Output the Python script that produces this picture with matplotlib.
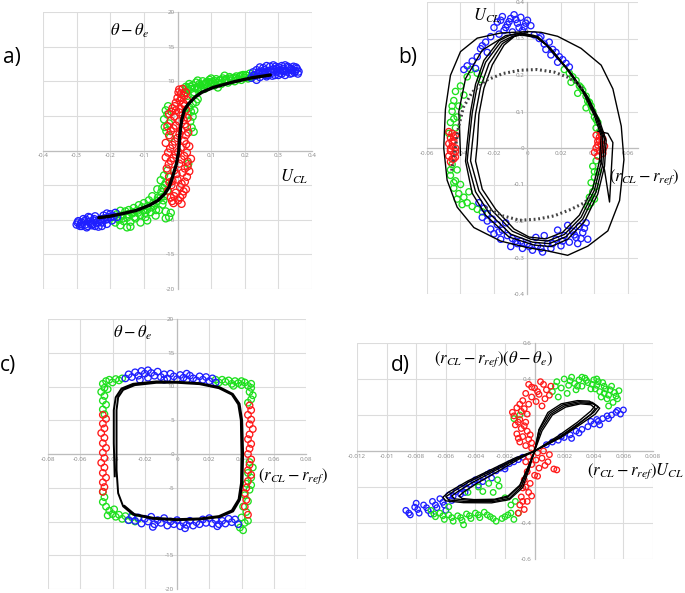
import numpy as np
import matplotlib
matplotlib.use('Agg')
import matplotlib.pyplot as plt

plt.rcParams['mathtext.fontset'] = 'stix'
plt.rcParams['font.family'] = ['Open Sans', 'DejaVu Sans']

W, H = 685, 593

BLUE = '#1f1fff'
RED = '#ff1a1a'
GREEN = '#1ee01e'

# ---------------- panel a) : theta - theta_e  vs  U_CL ----------------
a_xticks = [-0.4, -0.3, -0.2, -0.1, 0, 0.1, 0.2, 0.3, 0.4]
a_xlabels = ['-0.4', '-0.3', '-0.2', '-0.1', '0', '0.1', '0.2', '0.3', '0.4']
a_yticks = [-20, -15, -10, -5, 0, 5, 10, 15, 20]
a_ylabels = ['-20', '-15', '-10', '-5', '0', '5', '10', '15', '20']

a_blue = [(0.220, 10.5), (0.225, 11.3), (0.230, 10.8), (0.235, 11.6), (0.240, 11.0), (0.245, 10.6),
          (0.250, 11.4), (0.255, 11.9), (0.260, 11.1), (0.265, 10.7), (0.270, 11.5), (0.275, 12.1),
          (0.280, 11.2), (0.285, 11.7), (0.290, 10.9), (0.295, 11.4), (0.300, 12.0), (0.305, 11.6),
          (0.310, 11.1), (0.315, 11.8), (0.320, 12.3), (0.325, 11.4), (0.330, 11.9), (0.335, 11.1),
          (0.340, 11.6), (0.345, 12.1), (0.350, 11.5), (0.355, 11.8), (0.360, 11.4), (0.245, 12.0),
          (0.265, 12.2), (0.285, 12.3), (0.300, 10.9), (0.320, 10.9), (0.270, 10.9), (0.235, 10.2),
          (0.255, 11.2), (0.310, 12.2), (0.340, 11.2), (0.295, 11.8),
          (0.228, 10.9), (0.242, 11.3), (0.258, 11.6), (0.262, 10.9), (0.278, 11.4), (0.292, 12.1),
          (0.305, 11.2), (0.318, 11.5), (0.328, 12.1), (0.338, 11.8), (0.348, 11.3), (0.352, 12.0),
          (0.358, 11.1), (0.282, 10.8), (0.312, 11.5),
          (-0.300, -10.7), (-0.295, -10.2), (-0.290, -10.9), (-0.285, -10.4), (-0.280, -9.9),
          (-0.275, -10.7), (-0.270, -11.1), (-0.265, -10.3), (-0.260, -9.7), (-0.255, -10.8),
          (-0.250, -10.1), (-0.245, -9.5), (-0.240, -10.5), (-0.235, -11.0), (-0.230, -9.9),
          (-0.225, -10.4), (-0.220, -9.4), (-0.215, -10.0), (-0.210, -10.6), (-0.205, -9.6),
          (-0.200, -9.2), (-0.195, -10.1), (-0.190, -9.5), (-0.185, -9.0), (-0.180, -9.6),
          (-0.265, -9.6), (-0.245, -10.9), (-0.225, -10.9), (-0.285, -10.9), (-0.210, -9.1),
          (-0.297, -10.4), (-0.288, -10.6), (-0.276, -10.2), (-0.268, -10.9), (-0.258, -10.5),
          (-0.248, -9.9), (-0.238, -10.3), (-0.228, -10.1), (-0.218, -9.8), (-0.208, -9.9),
          (-0.198, -9.6), (-0.252, -10.6), (-0.272, -10.0)]

a_green = [(0.020, 8.3), (0.025, 9.2), (0.030, 8.7), (0.035, 9.6), (0.040, 8.9), (0.045, 9.4),
           (0.050, 8.4), (0.055, 9.8), (0.060, 9.1), (0.065, 9.6), (0.070, 8.8), (0.075, 10.0),
           (0.080, 9.4), (0.085, 9.8), (0.090, 9.2), (0.095, 10.2), (0.100, 9.6), (0.105, 9.9),
           (0.110, 9.4), (0.115, 10.3), (0.120, 9.8), (0.125, 10.1), (0.130, 9.6), (0.135, 10.4),
           (0.140, 10.0), (0.145, 10.3), (0.150, 9.8), (0.155, 10.6), (0.160, 10.1), (0.165, 10.4),
           (0.170, 10.0), (0.175, 10.7), (0.180, 10.3), (0.185, 10.6), (0.190, 10.2), (0.195, 10.9),
           (0.200, 10.5), (0.205, 10.8), (0.210, 10.4), (0.215, 11.1), (0.220, 10.7), (0.060, 10.1),
           (0.100, 10.4), (0.140, 10.8), (0.030, 7.9), (0.045, 8.2), (0.080, 8.9), (0.120, 9.1),
           (0.028, 9.0), (0.038, 9.2), (0.052, 9.0), (0.068, 9.4), (0.082, 9.6), (0.098, 9.8),
           (0.112, 10.0), (0.128, 10.2), (0.142, 10.2), (0.158, 10.4), (0.172, 10.5), (0.188, 10.8),
           (0.202, 10.9), (0.218, 10.5), (0.092, 9.9), (0.062, 8.9),
           (0.035, 6.2), (0.040, 5.6), (0.045, 4.9), (0.038, 4.2), (0.042, 3.3), (0.048, 2.7),
           (0.030, 5.2), (0.050, 5.8), (0.045, 6.8), (0.060, 7.4), (0.055, 7.0), (0.032, -1.9),
           (-0.035, 5.8), (-0.030, 5.2), (-0.040, 4.5), (-0.025, 3.9), (-0.033, 2.8), (-0.028, 6.4),
           (-0.038, 3.4), (-0.022, 1.9),
           (-0.190, -9.6), (-0.185, -10.4), (-0.180, -9.2), (-0.175, -10.0), (-0.170, -10.8),
           (-0.165, -9.4), (-0.160, -10.2), (-0.155, -8.8), (-0.150, -11.1), (-0.150, -9.7),
           (-0.145, -8.6), (-0.140, -10.3), (-0.135, -9.1), (-0.130, -8.3), (-0.125, -9.8),
           (-0.120, -8.7), (-0.115, -7.9), (-0.110, -9.3), (-0.105, -8.2), (-0.100, -7.6),
           (-0.095, -9.6), (-0.090, -8.5), (-0.085, -7.2), (-0.080, -8.9), (-0.075, -6.6),
           (-0.070, -8.0), (-0.065, -9.4), (-0.060, -7.3), (-0.060, -5.6), (-0.055, -8.6),
           (-0.050, -6.8), (-0.050, -4.3), (-0.045, -7.8), (-0.045, -5.4), (-0.040, -3.6),
           (-0.040, -6.6), (-0.035, -4.7), (-0.035, -8.8), (-0.030, -2.9), (-0.030, -5.8),
           (-0.025, -3.8), (-0.025, -9.6), (-0.020, -9.0), (-0.035, -9.8), (-0.110, -10.4),
           (-0.170, -8.7), (-0.140, -11.0), (-0.090, -10.1),
           (-0.178, -9.8), (-0.162, -9.8), (-0.148, -9.2), (-0.132, -8.9), (-0.118, -9.0),
           (-0.102, -8.6), (-0.088, -8.0), (-0.072, -7.6), (-0.058, -6.8), (-0.048, -6.0),
           (-0.038, -5.0), (-0.042, -7.2), (-0.064, -8.6), (-0.078, -8.2), (-0.096, -9.0),
           (-0.128, -9.6)]

a_red = [(0.005, 8.8), (0.010, 8.2), (0.015, 8.9), (0.020, 7.9), (0.000, 7.6), (0.025, 8.4),
         (0.008, 7.2), (-0.005, 6.9), (0.018, 6.8), (0.028, 7.3), (-0.015, 6.1), (-0.005, 5.8),
         (0.010, 6.0), (0.025, 5.9), (-0.025, 5.3), (-0.010, 4.9), (0.015, 5.1), (0.030, 4.7),
         (-0.020, 4.3), (0.005, 4.2), (0.022, 3.8), (-0.030, 3.5), (-0.012, 3.2), (0.012, 2.9),
         (0.032, 2.6), (-0.025, 2.2), (0.000, 1.8), (0.020, 1.4), (-0.035, 1.1), (-0.015, 0.8),
         (0.010, 0.4), (0.035, 0.6), (-0.028, -0.3), (-0.005, -0.6), (0.020, -0.8), (0.040, -1.2),
         (-0.020, -1.5), (0.005, -1.9), (0.030, -2.3), (-0.032, -2.6), (-0.010, -2.9), (0.015, -3.2),
         (0.035, -3.0), (-0.025, -3.8), (0.000, -4.2), (0.022, -4.5), (-0.018, -5.0), (0.008, -5.3),
         (-0.028, -5.8), (-0.005, -6.1), (0.015, -6.4), (-0.020, -6.8), (0.002, -7.2), (-0.012, -7.6),
         (0.025, -5.6), (0.030, -1.6), (-0.035, -1.0), (0.025, 2.2),
         (0.003, 8.4), (0.012, 7.6), (0.022, 6.5), (-0.008, 6.4), (0.005, 5.5), (-0.018, 5.6),
         (0.018, 4.4), (-0.005, 3.6), (0.028, 3.4), (-0.020, 2.8), (0.006, 2.4), (-0.008, 1.3),
         (0.026, 0.9), (-0.022, 0.3), (0.002, -0.2), (0.028, -0.3), (-0.012, -1.1), (0.012, -1.3),
         (-0.026, -2.0), (0.022, -2.6), (-0.003, -3.4), (0.028, -3.8), (-0.015, -4.4), (0.012, -4.8),
         (-0.024, -4.6), (0.018, -5.9), (-0.010, -6.6), (0.008, -6.8), (-0.016, -7.3), (0.012, -7.7)]

a_curve_x = [-0.234, -0.202, -0.162, -0.122, -0.083, -0.058, -0.038, -0.025, -0.015, -0.003,
             0.004, 0.006, 0.012, 0.020, 0.032, 0.052, 0.072, 0.106, 0.166, 0.221, 0.276]
a_curve_y = [-9.7, -9.5, -9.1, -8.65, -7.9, -7.2, -6.25, -5.3, -3.85, -1.9,
             0.0, 1.9, 4.3, 5.8, 6.7, 7.7, 8.4, 9.1, 9.9, 10.5, 10.9]

# ---------------- panel b) : U_CL  vs  (r_CL - r_ref) ----------------
b_xticks = [-0.06, -0.04, -0.02, 0, 0.02, 0.04, 0.06]
b_xlabels = ['-0.06', '-0.04', '-0.02', '0', '0.02', '0.04', '0.06']
b_yticks = [-0.4, -0.3, -0.2, -0.1, 0, 0.1, 0.2, 0.3, 0.4]
b_ylabels = ['-0.4', '-0.3', '-0.2', '-0.1', '0', '0.1', '0.2', '0.3', '0.4']

b_blue = [(-0.018, 0.345), (-0.015, 0.360), (-0.012, 0.338), (-0.010, 0.355), (-0.008, 0.365),
          (-0.006, 0.342), (-0.004, 0.358), (-0.002, 0.332), (0.000, 0.350), (-0.014, 0.322),
          (-0.009, 0.318), (-0.003, 0.322), (0.002, 0.335), (-0.020, 0.330), (-0.017, 0.312),
          (-0.016, 0.350), (-0.011, 0.346), (-0.007, 0.352), (-0.013, 0.330), (-0.001, 0.342),
          (-0.005, 0.330),
          (-0.022, 0.305), (-0.025, 0.290), (-0.028, 0.272), (-0.024, 0.262), (-0.030, 0.250),
          (-0.033, 0.238), (-0.036, 0.225), (-0.031, 0.218), (-0.038, 0.215), (-0.027, 0.280),
          (0.004, 0.310), (0.007, 0.300), (0.010, 0.285), (0.013, 0.290), (0.015, 0.270),
          (0.017, 0.262), (0.019, 0.250), (0.021, 0.242), (0.023, 0.232), (0.025, 0.222),
          (0.011, 0.270), (0.018, 0.235), (0.008, 0.305), (0.014, 0.255),
          (-0.029, -0.150), (-0.026, -0.165), (-0.024, -0.180), (-0.021, -0.195), (-0.027, -0.190),
          (-0.018, -0.210), (-0.022, -0.222), (-0.015, -0.225), (-0.012, -0.240), (-0.016, -0.250),
          (-0.009, -0.248), (-0.006, -0.262), (-0.010, -0.270), (-0.003, -0.275), (0.000, -0.262),
          (0.003, -0.280), (-0.004, -0.255), (0.006, -0.268), (0.009, -0.285), (0.012, -0.262),
          (0.014, -0.275), (0.017, -0.250), (0.020, -0.268), (0.022, -0.240), (0.025, -0.258),
          (0.027, -0.228), (0.029, -0.245), (0.031, -0.215), (0.033, -0.232), (0.035, -0.205),
          (0.036, -0.250), (0.030, -0.262), (0.024, -0.212), (0.018, -0.225), (0.010, -0.240),
          (-0.020, -0.235), (-0.013, -0.205), (0.005, -0.245),
          (-0.024, -0.200), (-0.017, -0.230), (-0.007, -0.255), (0.001, -0.270), (0.008, -0.275),
          (0.015, -0.262), (0.021, -0.255), (0.028, -0.238), (0.034, -0.220), (0.032, -0.248)]

b_green = [(-0.034, 0.215), (-0.030, 0.205), (-0.036, 0.195), (-0.028, 0.188), (-0.040, 0.170),
           (-0.043, 0.155), (-0.038, 0.145), (-0.044, 0.130), (-0.041, 0.115), (-0.045, 0.100),
           (-0.042, 0.085), (-0.046, 0.070), (-0.043, 0.055), (-0.045, -0.045), (-0.042, -0.060),
           (-0.046, -0.075), (-0.043, -0.090), (-0.040, -0.100), (-0.044, -0.110), (-0.041, -0.125),
           (-0.038, -0.135), (-0.036, -0.150), (-0.033, -0.160), (-0.030, -0.168), (-0.027, -0.175),
           (-0.024, -0.180), (-0.035, -0.120), (-0.039, -0.155), (-0.047, 0.040),
           (-0.045, 0.115), (-0.044, 0.080), (-0.046, -0.060), (-0.044, -0.095), (-0.042, -0.140),
           (0.022, 0.215), (0.025, 0.205), (0.027, 0.195), (0.029, 0.185), (0.026, 0.180),
           (0.031, 0.170), (0.033, 0.158), (0.030, 0.150), (0.035, 0.142), (0.036, 0.128),
           (0.038, 0.115), (0.035, 0.110), (0.039, 0.100), (0.040, 0.085), (0.042, 0.070),
           (0.041, 0.055), (0.043, 0.045), (0.041, -0.035), (0.039, -0.050), (0.042, -0.065),
           (0.040, -0.080), (0.038, -0.095), (0.041, -0.105), (0.039, -0.120), (0.037, -0.135),
           (0.038, -0.150), (0.036, -0.160),
           (0.037, 0.125), (0.041, 0.078), (0.040, -0.065), (0.040, -0.140), (0.032, 0.165)]

b_red = [(-0.047, 0.045), (-0.045, 0.040), (-0.043, 0.035), (-0.046, 0.028), (-0.044, 0.020),
         (-0.047, 0.012), (-0.045, 0.005), (-0.043, 0.000), (-0.046, -0.008), (-0.044, -0.015),
         (-0.047, -0.022), (-0.045, -0.030), (-0.043, -0.025), (-0.046, -0.038), (-0.044, 0.030),
         (-0.043, -0.010), (-0.045, 0.018), (-0.046, -0.002), (-0.044, -0.030),
         (0.041, 0.035), (0.043, 0.030), (0.045, 0.025), (0.042, 0.018), (0.044, 0.010),
         (0.046, 0.005), (0.041, 0.000), (0.043, -0.008), (0.045, -0.015), (0.042, -0.022),
         (0.044, 0.038), (0.040, -0.012), (0.043, 0.020), (0.045, -0.005), (0.042, 0.008)]

# inner limit cycles (several nearly identical turns)
b_loop1 = [(-0.004, 0.311), (0.005, 0.305), (0.012, 0.280), (0.024, 0.215), (0.034, 0.150),
           (0.041, 0.085), (0.045, 0.030), (0.044, -0.040), (0.040, -0.115), (0.032, -0.190),
           (0.022, -0.237), (0.012, -0.255), (0.002, -0.250), (-0.009, -0.228), (-0.021, -0.172),
           (-0.029, -0.117), (-0.034, -0.035), (-0.033, 0.011), (-0.031, 0.094), (-0.028, 0.167),
           (-0.023, 0.231), (-0.015, 0.286), (-0.008, 0.306), (-0.004, 0.311)]
b_loop2 = [(-0.004, 0.310), (0.006, 0.302), (0.013, 0.276), (0.025, 0.210), (0.035, 0.146),
           (0.042, 0.080), (0.046, 0.025), (0.045, -0.045), (0.041, -0.120), (0.033, -0.195),
           (0.023, -0.243), (0.013, -0.262), (0.003, -0.258), (-0.010, -0.236), (-0.023, -0.178),
           (-0.031, -0.120), (-0.036, -0.035), (-0.035, 0.012), (-0.033, 0.096), (-0.030, 0.170),
           (-0.025, 0.235), (-0.016, 0.290), (-0.009, 0.306), (-0.004, 0.310)]
b_loop3 = [(-0.004, 0.313), (0.004, 0.308), (0.011, 0.283), (0.023, 0.219), (0.033, 0.154),
           (0.040, 0.088), (0.044, 0.033), (0.043, -0.036), (0.039, -0.110), (0.031, -0.184),
           (0.021, -0.231), (0.011, -0.249), (0.001, -0.244), (-0.008, -0.222), (-0.019, -0.168),
           (-0.027, -0.113), (-0.031, -0.036), (-0.030, 0.010), (-0.029, 0.092), (-0.026, 0.164),
           (-0.021, 0.228), (-0.014, 0.282), (-0.008, 0.305), (-0.004, 0.313)]
b_loop4 = [(-0.004, 0.315), (0.006, 0.306), (0.014, 0.272), (0.026, 0.205), (0.036, 0.140),
           (0.043, 0.075), (0.047, 0.020), (0.046, -0.050), (0.042, -0.126), (0.034, -0.202),
           (0.024, -0.250), (0.014, -0.270), (0.004, -0.266), (-0.011, -0.244), (-0.025, -0.184),
           (-0.033, -0.124), (-0.037, -0.036), (-0.036, 0.013), (-0.034, 0.099), (-0.031, 0.175),
           (-0.026, 0.240), (-0.017, 0.294), (-0.010, 0.310), (-0.004, 0.315)]
# first big transient turn
b_outer = [(0.000, 0.319), (-0.016, 0.315), (-0.030, 0.301), (-0.040, 0.264), (-0.046, 0.199),
           (-0.049, 0.106), (-0.050, 0.000), (-0.048, -0.088), (-0.042, -0.162), (-0.032, -0.218),
           (-0.016, -0.255), (0.000, -0.273), (0.012, -0.282), (0.024, -0.294), (0.036, -0.269),
           (0.048, -0.227), (0.055, -0.144), (0.0576, -0.032), (0.056, 0.060), (0.051, 0.162),
           (0.044, 0.227), (0.032, 0.273), (0.018, 0.306), (0.008, 0.317), (0.000, 0.319)]
b_mid = [(-0.040, -0.020), (-0.041, 0.100), (-0.037, 0.190), (-0.027, 0.268), (-0.013, 0.308),
         (0.000, 0.316)]
b_spike = [(0.042, 0.046), (0.048, 0.040), (0.051, 0.015), (0.049, -0.148), (0.046, -0.060),
           (0.043, -0.030)]
# dotted linearised solution
b_dot_up = [(-0.0453, -0.062), (-0.0433, -0.007), (-0.0412, 0.057), (-0.0382, 0.112),
            (-0.033, 0.153), (-0.0249, 0.185), (-0.0147, 0.204), (-0.0045, 0.213),
            (0.0057, 0.215), (0.0159, 0.208), (0.024, 0.194), (0.030, 0.176), (0.034, 0.158)]
b_dot_low = [(-0.0249, -0.163), (-0.0147, -0.186), (-0.0045, -0.198), (0.0057, -0.195),
             (0.0159, -0.186), (0.026, -0.168), (0.034, -0.150), (0.038, -0.131)]

# ---------------- panel c) : theta - theta_e  vs  (r_CL - r_ref) ----------------
c_xticks = [-0.08, -0.06, -0.04, -0.02, 0, 0.02, 0.04, 0.06, 0.08]
c_xlabels = ['-0.08', '-0.06', '-0.04', '-0.02', '0', '0.02', '0.04', '0.06', '0.08']
c_yticks = [-20, -15, -10, -5, 0, 5, 10, 15, 20]
c_ylabels = ['-20', '-15', '-10', '-5', '0', '5', '10', '15', '20']

c_blue = [(-0.032, 11.2), (-0.030, 11.8), (-0.028, 11.4), (-0.026, 12.1), (-0.024, 11.6),
          (-0.022, 12.3), (-0.020, 11.9), (-0.018, 11.3), (-0.016, 12.0), (-0.014, 11.6),
          (-0.012, 12.2), (-0.010, 11.4), (-0.008, 11.8), (-0.006, 11.2), (-0.004, 11.9),
          (-0.002, 11.5), (0.000, 11.1), (0.002, 11.7), (0.004, 11.3), (0.006, 11.0), (0.008, 11.6),
          (0.010, 11.2), (0.012, 10.9), (0.014, 11.5), (0.016, 11.0), (0.018, 11.4), (0.020, 10.8),
          (0.022, 11.2), (0.024, 10.6), (-0.023, 11.0), (-0.008, 11.0), (0.006, 11.9), (-0.018, 12.4),
          (-0.028, -9.2), (-0.026, -9.9), (-0.024, -9.4), (-0.022, -10.3), (-0.020, -9.6),
          (-0.018, -10.0), (-0.016, -9.3), (-0.014, -10.4), (-0.012, -9.8), (-0.010, -10.2),
          (-0.008, -9.5), (-0.006, -10.6), (-0.004, -10.0), (-0.002, -10.4), (0.000, -9.8),
          (0.002, -10.7), (0.004, -10.2), (0.006, -10.5), (0.008, -9.9), (0.010, -10.6),
          (0.012, -10.1), (0.014, -10.4), (0.016, -9.7), (0.018, -10.2), (0.020, -9.5),
          (0.022, -10.3), (0.024, -9.8), (0.026, -10.4), (0.028, -9.9), (0.030, -10.3),
          (0.032, -9.6), (0.034, -10.1), (0.036, -9.7), (0.038, -10.4), (-0.030, -9.8),
          (-0.015, -10.8), (0.005, -11.0), (0.025, -10.7)]

c_green = [(-0.046, 10.4), (-0.044, 10.8), (-0.042, 11.0), (-0.040, 10.6), (-0.038, 11.1),
           (-0.036, 10.9), (-0.034, 11.2), (-0.045, 9.8), (-0.047, 9.2), (-0.045, 8.6),
           (-0.046, 7.9), (-0.044, 7.3), (-0.046, 6.6), (-0.045, 5.9), (-0.043, 9.6),
           (0.024, 11.0), (0.026, 10.6), (0.028, 11.0), (0.030, 10.7), (0.032, 10.9), (0.034, 10.4),
           (0.036, 10.8), (0.038, 10.5), (0.040, 10.2), (0.042, 10.6), (0.044, 10.1), (0.046, 9.8),
           (0.045, 9.2), (0.047, 8.7), (0.046, 8.1), (0.044, 7.6), (0.040, 10.8), (0.046, 10.4),
           (0.035, 10.1),
           (0.045, -1.2), (0.047, -2.0), (0.044, -2.8), (0.046, -3.5), (0.043, -4.4), (0.045, -5.3),
           (0.042, -6.1), (0.044, -7.0), (0.041, -7.8), (0.043, -8.6), (0.040, -9.4), (0.042, -10.2),
           (0.039, -10.9), (0.041, -11.3), (0.044, -9.9), (0.038, -10.4), (0.046, -4.6),
           (-0.046, -5.6), (-0.045, -6.4), (-0.046, -7.1), (-0.044, -7.8), (-0.042, -8.4),
           (-0.040, -8.9), (-0.038, -9.3), (-0.036, -9.0), (-0.034, -9.6), (-0.032, -9.2),
           (-0.030, -9.8), (-0.028, -9.4), (-0.026, -10.0), (-0.043, -9.1), (-0.039, -8.2),
           (-0.024, -9.6)]

c_red = [(-0.046, 5.8), (-0.044, 5.2), (-0.046, 4.5), (-0.045, 3.8), (-0.047, 3.1), (-0.045, 2.4),
         (-0.046, 1.6), (-0.044, 0.9), (-0.046, 0.2), (-0.045, -0.6), (-0.047, -1.3), (-0.045, -2.0),
         (-0.046, -2.8), (-0.044, -3.5), (-0.046, -4.2), (-0.045, -4.9), (-0.046, -5.6),
         (0.045, 7.2), (0.046, 6.5), (0.044, 5.8), (0.046, 5.1), (0.045, 4.4), (0.047, 3.7),
         (0.045, 2.9), (0.044, 2.2), (0.046, 1.5), (0.045, 0.8), (0.044, 0.0), (0.046, -0.8),
         (0.045, -1.6), (0.044, -2.4), (0.046, -3.1), (0.044, -4.0), (0.043, -5.0), (0.042, -5.8),
         (0.043, -6.8), (0.042, -7.8), (0.044, -9.0)]

c_curve = [(-0.0386, -3.3), (-0.0392, 1.6), (-0.0392, 6.5), (-0.0380, 8.4), (-0.0344, 9.7),
           (-0.0272, 10.4), (-0.0128, 10.75), (0.0000, 10.7), (0.0140, 10.5), (0.0264, 9.9),
           (0.0346, 8.9), (0.0388, 7.45), (0.0404, 5.0), (0.0410, 0.0), (0.0406, -4.3),
           (0.0390, -6.8), (0.0348, -8.5), (0.0264, -9.35), (0.0140, -9.7), (0.0000, -9.8),
           (-0.0148, -9.6), (-0.0272, -9.0), (-0.0334, -7.75), (-0.0365, -5.8), (-0.0375, -2.35),
           (-0.0375, 1.6), (-0.0375, 6.5), (-0.0365, 8.4), (-0.0334, 9.5), (-0.0262, 10.2),
           (-0.0128, 10.55), (0.0000, 10.55), (0.0140, 10.35), (0.0260, 9.75), (0.0340, 8.8),
           (0.0380, 7.35), (0.0396, 5.0), (0.0400, 0.0), (0.0397, -4.3), (0.0382, -6.7),
           (0.0340, -8.35), (0.0260, -9.2), (0.0140, -9.55), (0.0000, -9.65), (-0.0148, -9.45),
           (-0.0265, -8.9), (-0.0325, -7.7)]

# ---------------- panel d) : products ----------------
d_xticks = [-0.012, -0.01, -0.008, -0.006, -0.004, -0.002, 0, 0.002, 0.004, 0.006, 0.008]
d_xlabels = ['-0.012', '-0.01', '-0.008', '-0.006', '-0.004', '-0.002', '0', '0.002', '0.004',
             '0.006', '0.008']
d_yticks = [-0.6, -0.4, -0.2, 0, 0.2, 0.4, 0.6]
d_ylabels = ['-0.6', '-0.4', '-0.2', '0', '0.2', '0.4', '0.6']

d_blue = [(-0.0087, -0.330), (-0.0084, -0.355), (-0.0081, -0.312), (-0.0078, -0.345),
          (-0.0075, -0.300), (-0.0072, -0.330), (-0.0069, -0.280), (-0.0066, -0.315),
          (-0.0064, -0.265), (-0.0061, -0.300), (-0.0058, -0.245), (-0.0056, -0.275),
          (-0.0053, -0.225), (-0.0050, -0.205), (-0.0047, -0.230), (-0.0044, -0.185),
          (-0.0041, -0.170), (-0.0038, -0.190), (-0.0035, -0.145), (-0.0032, -0.130),
          (-0.0029, -0.150), (-0.0026, -0.110), (-0.0023, -0.095), (-0.0020, -0.085),
          (-0.0017, -0.070), (-0.0014, -0.060), (-0.0011, -0.048), (-0.0008, -0.035),
          (0.0008, 0.035), (0.0012, 0.050), (0.0016, 0.060), (0.0020, 0.075), (0.0024, 0.090),
          (0.0028, 0.110), (0.0032, 0.120), (0.0036, 0.135), (0.0040, 0.150), (0.0043, 0.165),
          (0.0046, 0.180), (0.0049, 0.195), (0.0052, 0.200), (0.0055, 0.215), (0.0058, 0.205),
          (0.0060, 0.228), (0.0038, 0.165), (0.0044, 0.145), (-0.0080, -0.290), (-0.0070, -0.350),
          (-0.0060, -0.330), (-0.0035, -0.170), (-0.0050, -0.240), (0.0025, 0.070),
          (-0.0085, -0.345), (-0.0079, -0.325), (-0.0073, -0.315), (-0.0067, -0.300),
          (-0.0062, -0.285), (-0.0055, -0.250), (-0.0046, -0.205), (-0.0040, -0.160),
          (-0.0030, -0.120), (-0.0020, -0.100), (0.0018, 0.080), (0.0030, 0.100), (0.0042, 0.175),
          (0.0050, 0.180), (0.0056, 0.225)]

d_green = [(0.0012, 0.330), (0.0015, 0.385), (0.0018, 0.350), (0.0020, 0.400), (0.0023, 0.365),
           (0.0025, 0.410), (0.0027, 0.375), (0.0030, 0.395), (0.0032, 0.360), (0.0034, 0.405),
           (0.0036, 0.380), (0.0038, 0.345), (0.0040, 0.395), (0.0042, 0.365), (0.0044, 0.330),
           (0.0046, 0.380), (0.0048, 0.345), (0.0050, 0.310), (0.0052, 0.360), (0.0054, 0.325),
           (0.0056, 0.290), (0.0057, 0.335), (0.0053, 0.270), (0.0049, 0.290), (0.0045, 0.300),
           (0.0028, 0.340), (0.0022, 0.320), (0.0016, 0.300), (0.0032, 0.410), (0.0042, 0.400),
           (0.0050, 0.250), (-0.0014, 0.180), (-0.0010, 0.200),
           (0.0014, 0.360), (0.0024, 0.390), (0.0029, 0.360), (0.0035, 0.392), (0.0039, 0.370),
           (0.0043, 0.385), (0.0047, 0.360), (0.0051, 0.340), (0.0055, 0.305), (0.0041, 0.345),
           (0.0047, 0.320),
           (-0.0070, -0.330), (-0.0067, -0.365), (-0.0064, -0.345), (-0.0061, -0.380),
           (-0.0058, -0.355), (-0.0055, -0.390), (-0.0052, -0.360), (-0.0049, -0.385),
           (-0.0046, -0.350), (-0.0043, -0.375), (-0.0040, -0.345), (-0.0037, -0.370),
           (-0.0034, -0.340), (-0.0030, -0.365), (-0.0026, -0.390), (-0.0022, -0.375),
           (-0.0018, -0.355), (-0.0014, -0.380), (-0.0011, -0.345), (-0.0038, -0.200),
           (-0.0035, -0.225), (-0.0031, -0.180), (-0.0028, -0.230), (-0.0024, -0.195),
           (-0.0020, -0.260), (-0.0016, -0.300), (-0.0013, -0.280), (-0.0045, -0.230),
           (-0.0058, -0.310), (-0.0048, -0.410), (-0.0025, -0.160),
           (-0.0068, -0.350), (-0.0062, -0.360), (-0.0056, -0.370), (-0.0050, -0.370),
           (-0.0044, -0.360), (-0.0038, -0.355), (-0.0032, -0.355), (-0.0028, -0.375),
           (-0.0020, -0.365), (-0.0016, -0.345)]

d_red = [(-0.0004, 0.370), (0.0000, 0.350), (0.0004, 0.385), (0.0008, 0.340), (0.0011, 0.360),
         (-0.0006, 0.320), (-0.0002, 0.300), (0.0003, 0.315), (0.0007, 0.290), (0.0010, 0.310),
         (-0.0008, 0.280), (-0.0004, 0.260), (0.0001, 0.275), (0.0005, 0.250), (-0.0012, 0.240),
         (-0.0009, 0.220), (-0.0005, 0.205), (-0.0014, 0.195), (-0.0010, 0.175), (-0.0006, 0.160),
         (-0.0013, 0.145), (-0.0009, 0.125), (-0.0005, 0.110), (-0.0012, 0.095), (-0.0008, 0.080),
         (-0.0004, 0.065), (-0.0010, 0.050), (-0.0006, 0.030), (-0.0002, 0.015), (0.0002, -0.010),
         (-0.0004, -0.030), (0.0001, -0.050), (0.0005, -0.040), (-0.0002, -0.075), (0.0003, -0.095),
         (-0.0005, -0.115), (0.0000, -0.135), (-0.0007, -0.160), (-0.0003, -0.180), (-0.0008, -0.205),
         (-0.0004, -0.230), (-0.0009, -0.255), (-0.0005, -0.280), (-0.0010, -0.300),
         (-0.0007, -0.325), (-0.0011, -0.345), (0.0009, -0.060), (0.0013, -0.100), (0.0015, -0.105),
         (0.0006, 0.000), (0.0010, -0.020), (-0.0015, 0.215),
         (-0.0002, 0.355), (0.0006, 0.370), (0.0002, 0.330), (-0.0010, 0.260), (-0.0007, 0.235),
         (-0.0011, 0.160), (-0.0007, 0.140), (-0.0003, 0.090), (-0.0011, 0.070), (-0.0002, 0.045),
         (-0.0006, -0.060), (0.0002, -0.140), (-0.0006, -0.200), (-0.0002, -0.250),
         (-0.0008, -0.280), (0.0007, -0.080)]

d_loop1 = [(0.0000, 0.000), (0.0003, 0.117), (0.0010, 0.209), (0.0019, 0.256), (0.0030, 0.274),
           (0.0039, 0.270), (0.0043, 0.246), (0.0040, 0.215), (0.0030, 0.154), (0.0017, 0.080),
           (0.0000, 0.000), (-0.0012, -0.041), (-0.0028, -0.106), (-0.0044, -0.170),
           (-0.0055, -0.226), (-0.0060, -0.254), (-0.0058, -0.272), (-0.0046, -0.281),
           (-0.0028, -0.281), (-0.0017, -0.263), (-0.0009, -0.198), (-0.00045, -0.106),
           (0.0000, 0.000)]
d_loop2 = [(0.0000, 0.000), (0.0004, 0.115), (0.0011, 0.204), (0.0020, 0.250), (0.0031, 0.268),
           (0.0040, 0.262), (0.0044, 0.238), (0.0041, 0.205), (0.0031, 0.148), (0.0018, 0.076),
           (0.0000, 0.000), (-0.0012, -0.044), (-0.0027, -0.110), (-0.0042, -0.175),
           (-0.0052, -0.226), (-0.0056, -0.250), (-0.0054, -0.266), (-0.0044, -0.274),
           (-0.0028, -0.274), (-0.0018, -0.256), (-0.0010, -0.194), (-0.0005, -0.104),
           (0.0000, 0.000)]
d_loop3 = [(0.0000, 0.000), (0.0003, 0.120), (0.0009, 0.214), (0.0018, 0.262), (0.0029, 0.280),
           (0.0037, 0.277), (0.0041, 0.254), (0.0038, 0.222), (0.0029, 0.160), (0.0016, 0.084),
           (0.0000, 0.000), (-0.0013, -0.038), (-0.0029, -0.102), (-0.0045, -0.166),
           (-0.0058, -0.228), (-0.0062, -0.257), (-0.0060, -0.277), (-0.0048, -0.287),
           (-0.0029, -0.288), (-0.0017, -0.270), (-0.0008, -0.202), (-0.0004, -0.108),
           (0.0000, 0.000)]
d_loop4 = [(0.0000, 0.000), (0.0005, 0.112), (0.0012, 0.200), (0.0021, 0.244), (0.0031, 0.262),
           (0.0038, 0.257), (0.0041, 0.236), (0.0038, 0.204), (0.0029, 0.145), (0.0017, 0.074),
           (0.0000, 0.000), (-0.0011, -0.047), (-0.0025, -0.114), (-0.0039, -0.180),
           (-0.0048, -0.228), (-0.0051, -0.250), (-0.0049, -0.264), (-0.0041, -0.270),
           (-0.0027, -0.268), (-0.0018, -0.250), (-0.0010, -0.190), (-0.0005, -0.100),
           (0.0000, 0.000)]


def xy(points):
    arr = np.array(points)
    return arr[:, 0], arr[:, 1]


def excel_axes(px_box, xlim, ylim, xticks, xlabels, yticks, ylabels):
    # px_box = (left, top, right, bottom) in figure pixels
    l, t, r, b = px_box
    ax = fig.add_axes([l / W, 1 - b / H, (r - l) / W, (b - t) / H])
    ax.set_xlim(xlim)
    ax.set_ylim(ylim)
    ax.set_xticks(xticks)
    ax.set_xticklabels(xlabels)
    ax.set_yticks(yticks)
    ax.set_yticklabels(ylabels)
    ax.grid(True, color='#dcdcdc', lw=0.8)
    ax.set_axisbelow(True)
    ax.spines['left'].set_position('zero')
    ax.spines['bottom'].set_position('zero')
    ax.spines['right'].set_visible(False)
    ax.spines['top'].set_visible(False)
    for s in ['left', 'bottom']:
        ax.spines[s].set_color('#bdbdbd')
        ax.spines[s].set_linewidth(0.9)
    ax.tick_params(length=0, labelsize=4.5, labelcolor='#8a8a8a', pad=2)
    ax.patch.set_alpha(0)
    return ax


def circles(ax, points, color, s):
    x, y = xy(points)
    ax.scatter(x, y, s=s, facecolors='none', edgecolors=color, linewidths=0.95, zorder=3)


def line(ax, points, lw, **kw):
    x, y = xy(points)
    ax.plot(x, y, color='black', lw=lw, zorder=4, solid_joinstyle='round', **kw)


fig = plt.figure(figsize=(W / 100, H / 100), dpi=100)

# a)
ax = excel_axes((43, 12, 312, 289), (-0.4, 0.4), (-20, 20), a_xticks, a_xlabels, a_yticks, a_ylabels)
circles(ax, a_green, GREEN, 26)
circles(ax, a_red, RED, 26)
circles(ax, a_blue, BLUE, 26)
ax.plot(a_curve_x, a_curve_y, color='black', lw=2.4, zorder=4, solid_capstyle='round')

# b)
ax = excel_axes((427, 2, 638, 294), (-0.06, 0.066), (-0.4, 0.4), b_xticks, b_xlabels, b_yticks, b_ylabels)
circles(ax, b_green, GREEN, 20)
circles(ax, b_red, RED, 20)
circles(ax, b_blue, BLUE, 20)
for lp in [b_loop1, b_loop2, b_loop3, b_loop4, b_outer, b_mid, b_spike]:
    line(ax, lp, 1.0)
for lp in [b_dot_up, b_dot_low]:
    x, y = xy(lp)
    ax.plot(x, y, color='#444444', lw=2.2, ls=(0, (0.6, 0.9)), zorder=4)

# c)
ax = excel_axes((48, 319, 306, 589), (-0.08, 0.08), (-20, 20), c_xticks, c_xlabels, c_yticks, c_ylabels)
circles(ax, c_green, GREEN, 22)
circles(ax, c_red, RED, 22)
circles(ax, c_blue, BLUE, 22)
line(ax, c_curve, 1.4)

# d)
ax = excel_axes((357, 343, 653, 559), (-0.012, 0.008), (-0.6, 0.6), d_xticks, d_xlabels, d_yticks, d_ylabels)
circles(ax, d_blue, BLUE, 16)
circles(ax, d_green, GREEN, 16)
circles(ax, d_red, RED, 16)
for lp in [d_loop1, d_loop2, d_loop3, d_loop4]:
    line(ax, lp, 1.0)


def ftext(x, y, s, size, **kw):
    fig.text(x / W, 1 - y / H, s, fontsize=size, ha='center', va='center', **kw)


# panel letters
ftext(12, 58, 'a)', 15)
ftext(408, 58, 'b)', 15)
ftext(8, 366, 'c)', 15)
ftext(400, 366, 'd)', 15)

# axis names
ftext(129, 31, r'$\theta-\theta_e$', 12)
ftext(294, 177, r'$U_{CL}$', 12)
ftext(487, 16, r'$U_{CL}$', 12)
ftext(644, 177, r'$\left(r_{CL}-r_{ref}\right)$', 12)
ftext(132, 333, r'$\theta-\theta_e$', 12)
ftext(293, 476, r'$\left(r_{CL}-r_{ref}\right)$', 12)
ftext(494, 359, r'$\left(r_{CL}-r_{ref}\right)\left(\theta-\theta_e\right)$', 12)
ftext(636, 471, r'$\left(r_{CL}-r_{ref}\right)U_{CL}$', 12)

fig.savefig('out.png', dpi=100)
